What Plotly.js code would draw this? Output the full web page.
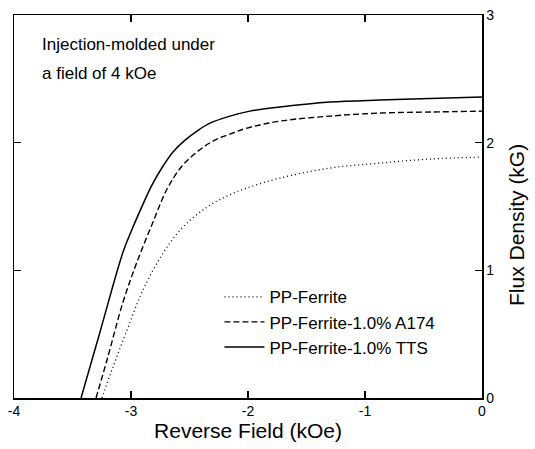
<!DOCTYPE html>
<html>
<head>
<meta charset="utf-8">
<script src="https://cdn.plot.ly/plotly-3.0.1.min.js"></script>
<style>html,body{margin:0;padding:0;background:#fff;}#chart{width:535px;height:449px;}</style>
</head>
<body>
<div id="chart"></div>
<script>
// Series names
const seriesNames = ["PP-Ferrite", "PP-Ferrite-1.0% A174", "PP-Ferrite-1.0% TTS"];

// PP-Ferrite (dotted)
const ferriteX = [-3.248, -3.154, -3.034, -2.897, -2.726, -2.556, -2.350, -2.179, -2.009, -1.726, -1.299, -0.872, -0.444, 0];
const ferriteY = [0, 0.243, 0.532, 0.846, 1.135, 1.339, 1.496, 1.582, 1.645, 1.723, 1.801, 1.840, 1.872, 1.887];

// PP-Ferrite-1.0% A174 (dashed)
const a174X = [-3.299, -3.205, -3.068, -2.949, -2.812, -2.692, -2.564, -2.436, -2.299, -2.154, -2.009, -1.726, -1.299, -0.872, -0.444, 0];
const a174Y = [0, 0.298, 0.752, 1.065, 1.378, 1.637, 1.817, 1.927, 2.013, 2.067, 2.114, 2.169, 2.208, 2.232, 2.240, 2.247];

// PP-Ferrite-1.0% TTS (solid)
const ttsX = [-3.427, -3.265, -3.068, -2.983, -2.897, -2.821, -2.726, -2.641, -2.538, -2.436, -2.325, -2.154, -1.983, -1.726, -1.299, -0.872, -0.444, 0];
const ttsY = [0, 0.517, 1.143, 1.339, 1.519, 1.668, 1.817, 1.927, 2.020, 2.091, 2.153, 2.208, 2.247, 2.279, 2.318, 2.334, 2.345, 2.357];

// Tick labels
const xTickVals = [-4, -3, -2, -1, 0];
const xTickText = ["-4", "-3", "-2", "-1", "0"];
const yTickVals = [0, 1, 2, 3];
const yTickText = ["0", "1", "2", "3"];

const font = "Arial, 'Liberation Sans', Helvetica, sans-serif";

const traces = [
  {x: ferriteX, y: ferriteY, name: seriesNames[0], legendgroup: "a", mode: "lines",
   line: {color: "#000", width: 1.3, dash: "1px,3px", shape: "spline", smoothing: 1}},
  {x: a174X, y: a174Y, name: seriesNames[1], legendgroup: "b", mode: "lines",
   line: {color: "#000", width: 1.4, dash: "6px,3px", shape: "spline", smoothing: 1}},
  {x: ttsX, y: ttsY, name: seriesNames[2], legendgroup: "c", mode: "lines",
   line: {color: "#000", width: 1.5, shape: "spline", smoothing: 1}}
];

const layout = {
  width: 535, height: 449,
  margin: {l: 14, r: 53, t: 15, b: 51},
  paper_bgcolor: "#fff", plot_bgcolor: "#fff",
  font: {family: font, color: "#000", size: 13},
  showlegend: true,
  legend: {x: 0.439, y: 0.31, xanchor: "left", yanchor: "top",
           bgcolor: "rgba(0,0,0,0)", font: {size: 17, family: font},
           traceorder: "grouped", tracegroupgap: 0, itemwidth: 40},
  xaxis: {range: [-4, 0], tickvals: xTickVals, ticktext: xTickText,
          ticks: "inside", ticklen: 7, tickwidth: 1.2, tickcolor: "#000",
          showline: true, linecolor: "#000", linewidth: 1.5, mirror: "ticks",
          showgrid: false, zeroline: false, tickfont: {size: 14},
          title: {text: "Reverse Field (kOe)", font: {size: 21}, standoff: 0}},
  yaxis: {range: [0, 3], side: "right", tickvals: yTickVals, ticktext: yTickText,
          ticks: "inside", ticklen: 7, tickwidth: 1.2, tickcolor: "#000",
          showline: true, linecolor: "#000", linewidth: 1.5, mirror: "ticks",
          showgrid: false, zeroline: false, tickfont: {size: 14}},
  annotations: [
    {xref: "paper", yref: "paper", x: 0.055, y: 0.922, xanchor: "left", yanchor: "middle",
     align: "left", showarrow: false, text: "Injection-molded under",
     font: {size: 17, family: font}},
    {xref: "paper", yref: "paper", x: 0.055, y: 0.846, xanchor: "left", yanchor: "middle",
     align: "left", showarrow: false, text: "a field of 4 kOe",
     font: {size: 17, family: font}},
    {xref: "paper", yref: "paper", x: 1.075, y: 0.452, xanchor: "center", yanchor: "middle",
     textangle: -90, showarrow: false, text: "Flux Density (kG)",
     font: {size: 21, family: font}}
  ]
};

Plotly.newPlot("chart", traces, layout, {displayModeBar: false, staticPlot: true});
</script>
</body>
</html>
